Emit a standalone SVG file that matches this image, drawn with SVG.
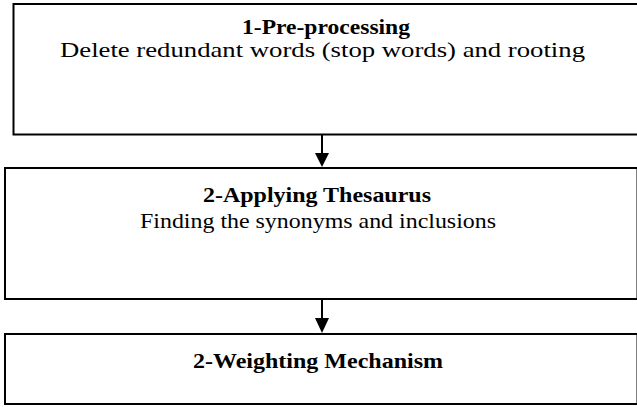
<svg xmlns="http://www.w3.org/2000/svg" width="637" height="407" viewBox="0 0 637 407">
<style>
.box{fill:#fff;stroke:#000;stroke-width:2}
.t{font-family:"Liberation Serif","Times New Roman",serif;font-size:22px;font-weight:bold;text-anchor:middle;fill:#000}
.s{font-family:"Liberation Serif","Times New Roman",serif;font-size:22px;text-anchor:middle;fill:#000}
.c{stroke:#000;stroke-width:2;fill:none}
.h{fill:#000;stroke:none}
</style>
<rect width="637" height="407" fill="#fff"/>
<g id="node1">
<rect class="box" x="13.5" y="4" width="640" height="130.5"/>
<text class="t" x="326" y="34" textLength="168" lengthAdjust="spacingAndGlyphs">1-Pre-processing</text>
<text class="s" x="322.5" y="56.5" textLength="525" lengthAdjust="spacingAndGlyphs">Delete redundant words (stop words) and rooting</text>
</g>
<g id="node2">
<rect class="box" x="5" y="168" width="632.5" height="131"/>
<text class="t" x="317" y="202" textLength="228" lengthAdjust="spacingAndGlyphs">2-Applying Thesaurus</text>
<text class="s" x="318" y="227.5" textLength="356" lengthAdjust="spacingAndGlyphs">Finding the synonyms and inclusions</text>
</g>
<g id="node3">
<rect class="box" x="5" y="334" width="632.5" height="70"/>
<text class="t" x="318" y="368" textLength="250" lengthAdjust="spacingAndGlyphs">2-Weighting Mechanism</text>
</g>
<g id="connectors">
<line class="c" x1="322" y1="135" x2="322" y2="154"/>
<polygon class="h" points="315,153 329,153 322,167"/>
<line class="c" x1="322" y1="300" x2="322" y2="319"/>
<polygon class="h" points="315,318 329,318 322,333"/>
</g>
</svg>
